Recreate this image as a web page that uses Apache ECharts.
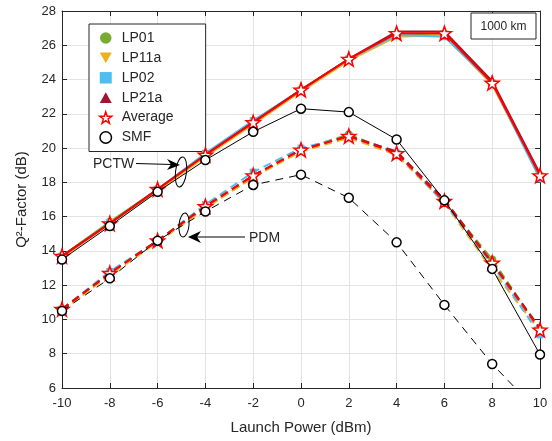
<!DOCTYPE html>
<html>
<head>
<meta charset="utf-8">
<script src="https://cdn.jsdelivr.net/npm/echarts@6/dist/echarts.min.js"></script>
<style>
  html, body { margin: 0; padding: 0; background: #fff; }
  #chart { width: 552px; height: 441px; }
</style>
</head>
<body>
<div id="chart"></div>
<script>
// Launch power sweep (dBm)
const launchPower = [-10, -8, -6, -4, -2, 0, 2, 4, 6, 8, 10];

// Q^2-factor (dB), PCTW scheme, per mode
const pctwLP01  = [13.7, 15.7, 17.6, 19.6, 21.5, 23.4, 25.2, 26.6, 26.6, 23.8, 18.4];
const pctwLP11a = [13.6, 15.6, 17.5, 19.5, 21.4, 23.3, 25.1, 26.5, 26.6, 23.7, 18.3];
const pctwLP02  = [13.7, 15.6, 17.6, 19.7, 21.6, 23.4, 25.2, 26.6, 26.5, 23.8, 18.2];
const pctwLP21a = [13.7, 15.6, 17.6, 19.6, 21.5, 23.4, 25.2, 26.8, 26.8, 23.9, 18.5];
const pctwAvg   = [13.7, 15.6, 17.6, 19.6, 21.5, 23.4, 25.2, 26.7, 26.7, 23.8, 18.4];
const pctwSMF   = [13.5, 15.45, 17.45, 19.3, 20.95, 22.3, 22.1, 20.5, 16.95, 12.95, 7.95];

// Q^2-factor (dB), PDM scheme, per mode
const pdmLP01  = [10.6, 12.7, 14.6, 16.5, 18.3, 19.9, 20.8, 19.7, 16.9, 13.5, 9.4];
const pdmLP11a = [10.5, 12.6, 14.5, 16.5, 18.3, 19.8, 20.6, 19.6, 16.8, 12.9, 9.3];
const pdmLP02  = [10.6, 12.8, 14.6, 16.7, 18.6, 20.0, 20.7, 19.7, 16.8, 13.2, 9.1];
const pdmLP21a = [10.6, 12.7, 14.6, 16.6, 18.4, 19.9, 20.7, 19.8, 17.0, 13.3, 9.5];
const pdmAvg   = [10.6, 12.7, 14.6, 16.6, 18.4, 19.9, 20.7, 19.7, 16.9, 13.3, 9.4];
const pdmSMF   = [10.5, 12.4, 14.6, 16.3, 17.85, 18.45, 17.1, 14.5, 10.85, 7.4, 4.5];

const seriesNames = ['LP01', 'LP11a', 'LP02', 'LP21a', 'Average', 'SMF'];
const xTicks = { min: -10, max: 10, step: 2 };
const yTicks = { min: 6, max: 28, step: 2 };

const FONT = '"Liberation Sans", Arial, Helvetica, sans-serif';
const TXT = '#262626';

const STAR = 'path://M0,-10 L2.35,-3.24 L9.51,-3.09 L3.8,1.24 L5.88,8.09 L0,4 L-5.88,8.09 L-3.8,1.24 L-9.51,-3.09 L-2.35,-3.24 Z';
const TRI_DOWN = 'path://M0,0 L10,0 L5,9 Z';
const TRI_UP = 'path://M5,0 L10,9 L0,9 Z';

const styles = {
  LP01:    { color: '#77AC30', symbol: 'circle', size: 8, fill: '#77AC30', width: 2 },
  LP11a:   { color: '#EDB120', symbol: TRI_DOWN, size: 9, fill: '#EDB120', width: 2 },
  LP02:    { color: '#4DBEEE', symbol: 'rect', size: 7, fill: '#4DBEEE', width: 2 },
  LP21a:   { color: '#A2142F', symbol: TRI_UP, size: 9, fill: '#A2142F', width: 2 },
  Average: { color: '#FF0000', symbol: STAR, size: 14, fill: '#FFFFFF', width: 2 },
  SMF:     { color: '#000000', symbol: 'circle', size: 9, fill: '#FFFFFF', width: 1 }
};

const pctw = { LP01: pctwLP01, LP11a: pctwLP11a, LP02: pctwLP02, LP21a: pctwLP21a, Average: pctwAvg, SMF: pctwSMF };
const pdm  = { LP01: pdmLP01,  LP11a: pdmLP11a,  LP02: pdmLP02,  LP21a: pdmLP21a,  Average: pdmAvg,  SMF: pdmSMF };

function pairs(ys) { return launchPower.map((x, i) => [x, ys[i]]); }

function edgeColor(name) {
  if (name === 'Average') return '#FF0000';
  if (name === 'SMF') return '#000000';
  return styles[name].color;
}
function edgeWidth(name) {
  return (name === 'Average' || name === 'SMF') ? 1.5 : 0;
}

function makeSeries(name, ys, dashed, z) {
  const s = styles[name];
  return {
    name: name,
    type: 'line',
    data: pairs(ys),
    symbol: s.symbol,
    symbolSize: s.size,
    showAllSymbol: true,
    clip: true,
    z: z,
    lineStyle: {
      color: s.color,
      width: s.width,
      type: dashed ? (name === 'SMF' ? [8, 6] : [8, 5]) : 'solid'
    },
    itemStyle: { color: s.fill, borderColor: edgeColor(name), borderWidth: edgeWidth(name) },
    emphasis: { disabled: true },
    animation: false
  };
}

const series = [];
seriesNames.forEach((n, i) => {
  series.push(makeSeries(n, pctw[n], false, 2 + i));
  series.push(makeSeries(n, pdm[n], true, 2 + i));
});

const legendData = seriesNames.map(n => ({
  name: n,
  icon: styles[n].symbol,
  itemStyle: { color: styles[n].fill, borderColor: edgeColor(n), borderWidth: edgeWidth(n) }
}));

// mirrored axes closing the plot box (top and right)
const boxAxisX = {
  type: 'value', position: 'top', min: xTicks.min, max: xTicks.max, interval: xTicks.step,
  axisLine: { show: true, onZero: false, lineStyle: { color: TXT, width: 1 } },
  axisTick: { show: true, inside: true, length: 5, lineStyle: { color: TXT } },
  axisLabel: { show: false }, splitLine: { show: false }
};
const boxAxisY = {
  type: 'value', position: 'right', min: yTicks.min, max: yTicks.max, interval: yTicks.step,
  axisLine: { show: true, onZero: false, lineStyle: { color: TXT, width: 1 } },
  axisTick: { show: true, inside: true, length: 5, lineStyle: { color: TXT } },
  axisLabel: { show: false }, splitLine: { show: false }
};

const chart = echarts.init(document.getElementById('chart'), null, { renderer: 'canvas' });

chart.setOption({
  animation: false,
  backgroundColor: '#FFFFFF',
  textStyle: { fontFamily: FONT },
  grid: { left: 62, right: 12, top: 11, bottom: 53, containLabel: false },
  xAxis: [{
    type: 'value', min: xTicks.min, max: xTicks.max, interval: xTicks.step,
    name: 'Launch Power (dBm)', nameLocation: 'middle', nameGap: 32,
    nameTextStyle: { color: TXT, fontSize: 15, fontFamily: FONT },
    axisLine: { show: true, onZero: false, lineStyle: { color: TXT, width: 1 } },
    axisTick: { show: true, inside: true, length: 5, lineStyle: { color: TXT } },
    axisLabel: { color: TXT, fontSize: 13, margin: 9, fontFamily: FONT },
    splitLine: { show: true, lineStyle: { color: '#E3E3E3', width: 1 } }
  }, boxAxisX],
  yAxis: [{
    type: 'value', min: yTicks.min, max: yTicks.max, interval: yTicks.step,
    name: 'Q²-Factor (dB)', nameLocation: 'middle', nameGap: 33,
    nameTextStyle: { color: TXT, fontSize: 15, fontFamily: FONT },
    axisLine: { show: true, onZero: false, lineStyle: { color: TXT, width: 1 } },
    axisTick: { show: true, inside: true, length: 5, lineStyle: { color: TXT } },
    axisLabel: { color: TXT, fontSize: 13, margin: 6, fontFamily: FONT },
    splitLine: { show: true, lineStyle: { color: '#E3E3E3', width: 1 } }
  }, boxAxisY],
  legend: {
    orient: 'vertical',
    left: 89, top: 24,
    padding: [7, 32, 7, 10],
    itemGap: 5.9,
    itemWidth: 12, itemHeight: 11.5,
    backgroundColor: '#FFFFFF',
    borderColor: '#262626', borderWidth: 1,
    borderRadius: 0,
    selectedMode: false,
    textStyle: { color: TXT, fontSize: 14, fontFamily: FONT, padding: [0, 0, 0, 5] },
    data: legendData
  },
  series: series,
  graphic: [
    // distance label box
    { type: 'rect', z: 100, shape: { x: 471, y: 13, width: 65, height: 26 },
      style: { fill: '#FFFFFF', stroke: '#262626', lineWidth: 1 } },
    { type: 'text', z: 101, style: { x: 503.5, y: 26.5, text: '1000 km', fill: TXT, font: '12px ' + FONT, align: 'center', verticalAlign: 'middle' } },
    // PCTW annotation
    { type: 'text', z: 101, style: { x: 93, y: 164, text: 'PCTW', fill: TXT, font: '14px ' + FONT, align: 'left', verticalAlign: 'middle' } },
    { type: 'line', z: 101, shape: { x1: 136, y1: 163.5, x2: 172, y2: 164.5 }, style: { stroke: '#000', lineWidth: 1 } },
    { type: 'polygon', z: 101, shape: { points: [[180, 165], [167, 159], [171, 164.5], [167, 170]] }, style: { fill: '#000' } },
    { type: 'ellipse', z: 101, x: 181, y: 172, rotation: -0.12, shape: { cx: 0, cy: 0, rx: 5.5, ry: 15 }, style: { fill: 'none', stroke: '#000', lineWidth: 1 } },
    // PDM annotation
    { type: 'text', z: 101, style: { x: 249, y: 238, text: 'PDM', fill: TXT, font: '14px ' + FONT, align: 'left', verticalAlign: 'middle' } },
    { type: 'line', z: 101, shape: { x1: 245, y1: 237, x2: 196, y2: 237 }, style: { stroke: '#000', lineWidth: 1 } },
    { type: 'polygon', z: 101, shape: { points: [[188, 237], [201, 231], [197, 237], [201, 243]] }, style: { fill: '#000' } },
    { type: 'ellipse', z: 101, x: 184, y: 225, rotation: -0.1, shape: { cx: 0, cy: 0, rx: 5, ry: 12 }, style: { fill: 'none', stroke: '#000', lineWidth: 1 } }
  ]
});
</script>
</body>
</html>
